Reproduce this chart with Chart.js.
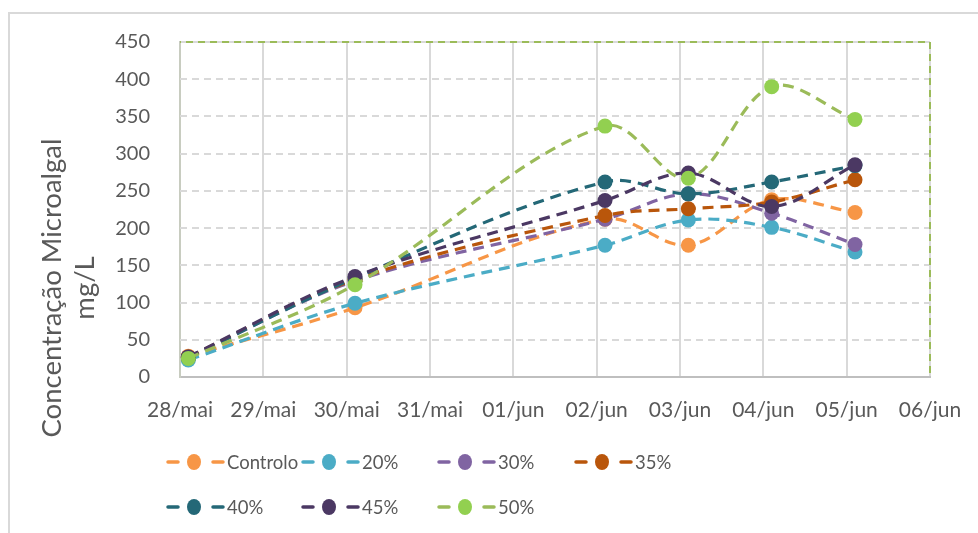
<!DOCTYPE html>
<html>
<head>
<meta charset="utf-8">
<script src="https://cdn.jsdelivr.net/npm/chart.js@4/dist/chart.umd.min.js"></script>
<style>
  html, body { margin: 0; padding: 0; background: #ffffff; }
  #wrap { width: 978px; height: 533px; position: relative; }
</style>
</head>
<body>
<div id="wrap"><canvas id="c" width="978" height="533"></canvas></div>
<script>
// Axis tick labels (one per day)
const dateLabels = ['28/mai', '29/mai', '30/mai', '31/mai', '01/jun', '02/jun', '03/jun', '04/jun', '05/jun', '06/jun'];
// Sampling moments, in days after 28/mai
const sampleDays = [0.1, 2.1, 5.1, 6.1, 7.1, 8.1];

// Microalgal concentration (mg/L) per treatment
const controlo = [28, 93, 212, 177, 238, 221];
const pct20    = [23, 99, 177, 211, 201, 168];
const pct30    = [26, 129, 212, 246, 220, 178];
const pct35    = [27, 131, 217, 226, 235, 265];
const pct40    = [26, 133, 262, 246, 262, 284];
const pct45    = [27, 135, 237, 274, 229, 285];
const pct50    = [25, 124, 337, 267, 390, 346];

const seriesNames = ['Controlo', '20%', '30%', '35%', '40%', '45%', '50%'];
const seriesValues = [controlo, pct20, pct30, pct35, pct40, pct45, pct50];
const lineColors  = ['#F79646', '#4BACC6', '#8064A2', '#B9560B', '#246877', '#4B3863', '#9BBB59'];
const pointColors = ['#F79646', '#4BACC6', '#8064A2', '#B9560B', '#246877', '#4B3863', '#92D050'];

const FONT = 'Lato, "Open Sans", sans-serif';
const TEXT = '#595959';
const GRID = '#D9D9D9';

const datasets = seriesNames.map((name, i) => ({
  label: name,
  data: sampleDays.map((d, k) => ({ x: d, y: seriesValues[i][k] })),
  borderColor: lineColors[i],
  backgroundColor: pointColors[i],
  pointBackgroundColor: pointColors[i],
  pointBorderWidth: 0,
  pointRadius: 7.5,
  pointHoverRadius: 7.5,
  borderWidth: 3.2,
  borderDash: [11, 7],
  tension: 0.35,
  fill: false,
  // later series sit on top
  order: seriesNames.length - 1 - i
}));

// Outer frame, dashed value gridlines, plot border, rotated axis title and the two-row legend
const decorations = {
  id: 'decorations',
  beforeDraw(chart) {
    const ctx = chart.ctx;
    ctx.save();
    ctx.fillStyle = '#ffffff';
    ctx.fillRect(0, 0, chart.width, chart.height);
    ctx.strokeStyle = GRID;
    ctx.lineWidth = 2;
    ctx.strokeRect(9, 13, chart.width + 20, chart.height + 20);
    ctx.restore();
  },
  beforeDatasetsDraw(chart) {
    const ctx = chart.ctx;
    const a = chart.chartArea;
    const ys = chart.scales.y;
    ctx.save();
    ctx.strokeStyle = GRID;
    ctx.lineWidth = 2;
    ctx.setLineDash([7, 5]);
    ys.ticks.forEach(t => {
      if (t.value === 0) return;
      const py = Math.round(ys.getPixelForValue(t.value));
      ctx.beginPath();
      ctx.moveTo(a.left, py);
      ctx.lineTo(a.right, py);
      ctx.stroke();
    });
    ctx.restore();
  },
  afterDatasetsDraw(chart) {
    const ctx = chart.ctx;
    const a = chart.chartArea;
    ctx.save();
    ctx.strokeStyle = '#9BBB59';
    ctx.lineWidth = 2;
    ctx.setLineDash([7, 5]);
    ctx.lineDashOffset = 6;
    ctx.beginPath();
    ctx.moveTo(a.left, Math.round(a.top));
    ctx.lineTo(a.right, Math.round(a.top));
    ctx.lineTo(a.right, a.bottom);
    ctx.stroke();
    ctx.restore();
  },
  afterDraw(chart) {
    const ctx = chart.ctx;
    ctx.save();
    // y axis title
    ctx.fillStyle = TEXT;
    ctx.font = '27.5px ' + FONT;
    ctx.textAlign = 'center';
    ctx.textBaseline = 'middle';
    ctx.translate(68, 288);
    ctx.rotate(-Math.PI / 2);
    ctx.fillText('Concentração Microalgal', 0, -16);
    ctx.fillText('mg/L', 0, 17);
    ctx.restore();

    // legend
    ctx.save();
    const cols = [167, 302, 438, 575];
    const rows = [462, 507];
    ctx.font = '18.5px ' + FONT;
    ctx.textBaseline = 'middle';
    ctx.textAlign = 'left';
    seriesNames.forEach((name, i) => {
      const x = cols[i % 4];
      const y = rows[Math.floor(i / 4)];
      ctx.strokeStyle = lineColors[i];
      ctx.lineWidth = 3.5;
      ctx.lineCap = 'round';
      ctx.beginPath();
      ctx.moveTo(x + 1, y); ctx.lineTo(x + 11, y);
      ctx.moveTo(x + 46, y); ctx.lineTo(x + 56, y);
      ctx.stroke();
      ctx.fillStyle = pointColors[i];
      ctx.beginPath();
      ctx.ellipse(x + 27, y, 7, 8, 0, 0, Math.PI * 2);
      ctx.fill();
      ctx.fillStyle = TEXT;
      ctx.fillText(name, x + 60, y + 1);
    });
    ctx.restore();
  }
};

new Chart(document.getElementById('c'), {
  type: 'line',
  data: { datasets },
  options: {
    responsive: false,
    animation: false,
    events: [],
    layout: { padding: { left: 0, right: 48, top: 42, bottom: 0 } },
    plugins: {
      legend: { display: false },
      tooltip: { enabled: false },
      title: { display: false }
    },
    scales: {
      x: {
        type: 'linear',
        min: 0,
        max: 9,
        afterFit(scale) {
          scale.height = 156;
          scale.paddingLeft = 0;
          scale.paddingRight = 0;
        },
        afterBuildTicks(scale) {
          scale.ticks = dateLabels.map((_, i) => ({ value: i }));
        },
        ticks: {
          autoSkip: false,
          maxRotation: 0,
          padding: 21,
          color: TEXT,
          font: { family: FONT, size: 21 },
          callback: (v) => dateLabels[v]
        },
        grid: { color: GRID, lineWidth: 2, drawTicks: false },
        border: { color: '#BFBFBF', width: 2 }
      },
      y: {
        min: 0,
        max: 450,
        afterFit(scale) { scale.width = 180; },
        ticks: {
          stepSize: 50,
          padding: 22,
          color: TEXT,
          font: { family: FONT, size: 20 }
        },
        grid: { display: false },
        border: { color: '#C8CCC0', width: 2 }
      }
    }
  },
  plugins: [decorations]
});
</script>
</body>
</html>
